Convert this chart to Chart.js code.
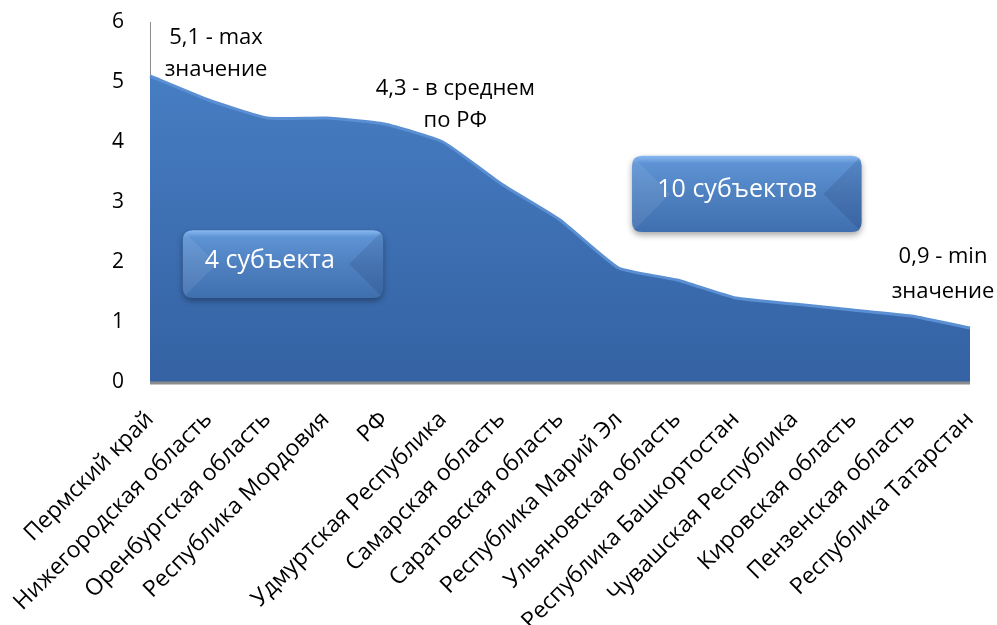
<!DOCTYPE html>
<html><head><meta charset="utf-8">
<script src="https://cdn.jsdelivr.net/npm/chart.js@4/dist/chart.umd.min.js"></script>
<style>html,body{margin:0;padding:0;background:#fff}#wrap{width:997px;height:625px}</style>
</head><body><div id="wrap"><canvas id="c" width="997" height="625"></canvas></div>
<script>
const categories = ["Пермский край","Нижегородская область","Оренбургская область","Республика Мордовия","РФ","Удмуртская Республика","Самарская область","Саратовская область","Республика Марий Эл","Ульяновская область","Республика Башкортостан","Чувашская Республика","Кировская область","Пензенская область","Республика Татарстан"];
const values = [5.1,4.7,4.4,4.4,4.3,4.0,3.3,2.7,1.9,1.7,1.4,1.3,1.2,1.1,0.9];
const yTicks = [0,1,2,3,4,5,6];
const notes = [
  {idx:0, lines:["5,1 - max","значение"], dx:66, y1:5.73, y2:5.2},
  {idx:4, lines:["4,3 - в среднем","по РФ"], dx:71, y1:4.88, y2:4.36},
  {idx:14, lines:["0,9 - min","значение"], dx:-27, y1:2.09, y2:1.51}
];
const boxes = [
  {text:"4 субъекта", from:0.56, to:3.98, top:2.53, bottom:1.4},
  {text:"10 субъектов", from:8.23, to:12.15, top:3.77, bottom:2.5}
];
const FONT = "'Open Sans', sans-serif";

function rr(ctx,x,y,w,h,r){ctx.beginPath();ctx.moveTo(x+r,y);ctx.lineTo(x+w-r,y);ctx.quadraticCurveTo(x+w,y,x+w,y+r);ctx.lineTo(x+w,y+h-r);ctx.quadraticCurveTo(x+w,y+h,x+w-r,y+h);ctx.lineTo(x+r,y+h);ctx.quadraticCurveTo(x,y+h,x,y+h-r);ctx.lineTo(x,y+r);ctx.quadraticCurveTo(x,y,x+r,y);ctx.closePath();}

const overlay = {
  id:'overlay',
  afterDatasetsDraw(chart){
    const ctx = chart.ctx, xs = chart.scales.x, ys = chart.scales.y, ca = chart.chartArea;
    ctx.save();
    ctx.strokeStyle = '#8c8c8c'; ctx.lineWidth = 3;
    ctx.beginPath(); ctx.moveTo(ca.left, ca.bottom+1); ctx.lineTo(ca.right, ca.bottom+1); ctx.stroke();
    ctx.fillStyle = '#000'; ctx.font = "22px " + FONT; ctx.textAlign = 'center'; ctx.textBaseline = 'middle';
    notes.forEach(n=>{
      const x = xs.getPixelForValue(n.idx) + n.dx;
      ctx.fillText(n.lines[0], x, ys.getPixelForValue(n.y1));
      ctx.fillText(n.lines[1], x, ys.getPixelForValue(n.y2));
    });
    boxes.forEach(b=>{
      const x1 = xs.getPixelForValue(b.from), x2 = xs.getPixelForValue(b.to);
      const y1 = ys.getPixelForValue(b.top), y2 = ys.getPixelForValue(b.bottom);
      const w = x2-x1, h = y2-y1;
      ctx.save();
      ctx.shadowColor = 'rgba(0,0,0,0.35)'; ctx.shadowBlur = 6; ctx.shadowOffsetY = 3;
      rr(ctx,x1,y1,w,h,10);
      const g = ctx.createLinearGradient(0,y1,0,y2);
      g.addColorStop(0,'#8ab9f0'); g.addColorStop(0.1,'#5d93d4'); g.addColorStop(0.5,'#4f81c0'); g.addColorStop(1,'#3f6fae');
      ctx.fillStyle = g; ctx.fill();
      ctx.restore();
      ctx.save(); rr(ctx,x1,y1,w,h,10); ctx.clip();
      ctx.fillStyle='rgba(255,255,255,0.08)';
      ctx.beginPath(); ctx.moveTo(x1,y1); ctx.lineTo(x1+h/2,y1+h/2); ctx.lineTo(x1,y2); ctx.closePath(); ctx.fill();
      ctx.fillStyle='rgba(0,0,40,0.10)';
      ctx.beginPath(); ctx.moveTo(x2,y1); ctx.lineTo(x2-h/2,y1+h/2); ctx.lineTo(x2,y2); ctx.closePath(); ctx.fill();
      ctx.restore();
      ctx.fillStyle = '#fff'; ctx.font = "25px " + FONT; ctx.textAlign='left'; ctx.textBaseline='middle';
      ctx.fillText(b.text, x1 + w*0.11, y1 + h*0.45);
    });
    ctx.restore();
  }
};

new Chart(document.getElementById('c'), {
  type:'line',
  data:{labels:categories, datasets:[{
    data:values, fill:'origin', pointRadius:0, tension:0.15,
    borderColor:'#5b8fd3', borderWidth:3,
    backgroundColor(ctx){
      const ca = ctx.chart.chartArea; if(!ca) return '#4a7ebf';
      const g = ctx.chart.ctx.createLinearGradient(0,ca.top,0,ca.bottom);
      g.addColorStop(0,'#4a82c8'); g.addColorStop(1,'#3462a3'); return g;
    }
  }]},
  options:{
    responsive:false, animation:false,
    layout:{padding:{top:22,right:27,left:0,bottom:0}},
    plugins:{legend:{display:false}, tooltip:{enabled:false}},
    scales:{
      x:{offset:false, grid:{display:false, drawTicks:false}, border:{display:false},
         ticks:{autoSkip:false, maxRotation:45, minRotation:45, color:'#000', padding:24, font:{family:FONT, size:23}},
         afterFit(s){s.height = 243; s.paddingLeft = 0; s.paddingRight = 0;}},
      y:{min:0, max:6, grid:{display:false, drawTicks:false}, border:{display:true, color:'#8c8c8c', width:1},
         afterBuildTicks(s){s.ticks = yTicks.map(v=>({value:v}));},
         ticks:{color:'#000', padding:26, font:{family:FONT, size:21}},
         afterFit(s){s.width = 150; s.paddingTop = 0; s.paddingBottom = 0;}}
    }
  },
  plugins:[overlay]
});
</script></body></html>
